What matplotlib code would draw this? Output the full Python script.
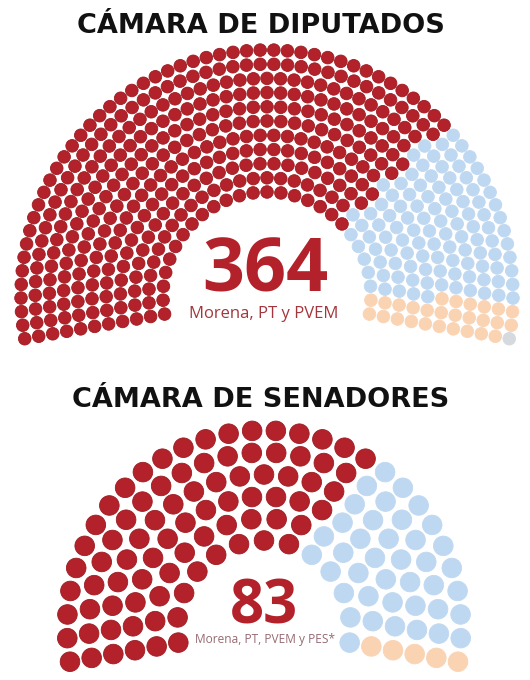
import numpy as np
import matplotlib
matplotlib.use("Agg")
import matplotlib.pyplot as plt
from matplotlib.patches import Circle
from matplotlib.collections import PatchCollection

# ---------------- data ----------------
dip_groups = ["Morena, PT y PVEM", "PAN, PRI y PRD", "MC", "Independiente"]
dip_seats = [364, 108, 27, 1]
sen_groups = ["Morena, PT, PVEM y PES", "PAN, PRI y PRD", "MC"]
sen_seats = [83, 40, 5]
group_colors = ["#B3222A", "#BFD8F1", "#FAD3B3", "#D6D9DE"]

dip_title = "CÁMARA DE DIPUTADOS"
sen_title = "CÁMARA DE SENADORES"
dip_big = "364"
dip_label = "Morena, PT y PVEM"
sen_big = "83"
sen_label = "Morena, PT, PVEM y PES*"


def seat_layout(total, n_rows, r_in, r_out, a_start=190.0, a_end=-10.0):
    radii = np.linspace(r_in, r_out, n_rows)
    ideal = total * radii / radii.sum()
    counts = np.floor(ideal).astype(int)
    rem = total - counts.sum()
    order = np.argsort(-(ideal - counts))
    counts[order[:rem]] += 1
    angs, rs = [], []
    for r, n in zip(radii, counts):
        a = np.linspace(np.radians(a_start), np.radians(a_end), n)
        angs.extend(a)
        rs.extend([r] * n)
    angs = np.array(angs)
    rs = np.array(rs)
    idx = np.lexsort((rs, -np.round(angs, 9)))
    return angs[idx], rs[idx]


def draw_hemicycle(ax, seats, n_rows, cx, cy, r_in, r_out, dot_r, colors):
    total = sum(seats)
    angs, rs = seat_layout(total, n_rows, r_in, r_out)
    xs = cx + rs * np.cos(angs)
    ys = cy - rs * np.sin(angs)
    cols = []
    for s, c in zip(seats, colors):
        cols += [c] * s
    patches = [Circle((x, y), dot_r) for x, y in zip(xs, ys)]
    edge = ["#9C1C22" if c == colors[0] else c for c in cols]
    pc = PatchCollection(patches, facecolor=cols, edgecolor=edge, linewidth=0.6)
    ax.add_collection(pc)


fig = plt.figure(figsize=(5.3, 6.8), dpi=100)
ax = fig.add_axes([0, 0, 1, 1])
ax.set_xlim(0, 530)
ax.set_ylim(680, 0)
ax.axis("off")

draw_hemicycle(ax, dip_seats, 11, 267, 296, 104, 246, 6.3, group_colors)
draw_hemicycle(ax, sen_seats, 6, 264, 627.5, 87, 197, 9.8, group_colors)

title_kw = dict(ha="center", va="baseline", fontsize=19.5, fontweight="bold",
                color="#111111", family=["DejaVu Sans"])
ax.text(261, 33, dip_title, **title_kw)
ax.text(261, 407, sen_title, **title_kw)

ax.text(265, 291, dip_big, ha="center", va="baseline", fontsize=53,
        fontweight="bold", color="#B3222A", family=["Open Sans", "DejaVu Sans"])
ax.text(264, 318, dip_label, ha="center", va="baseline", fontsize=12,
        color="#A3363C", family=["Open Sans", "DejaVu Sans"])
ax.text(264, 623, sen_big, ha="center", va="baseline", fontsize=43,
        fontweight="bold", color="#B3222A", family=["Open Sans", "DejaVu Sans"])
ax.text(265, 643, sen_label, ha="center", va="baseline", fontsize=8.6,
        color="#966A72", family=["Open Sans", "DejaVu Sans"])

fig.savefig("out.png", dpi=100, facecolor="white")
